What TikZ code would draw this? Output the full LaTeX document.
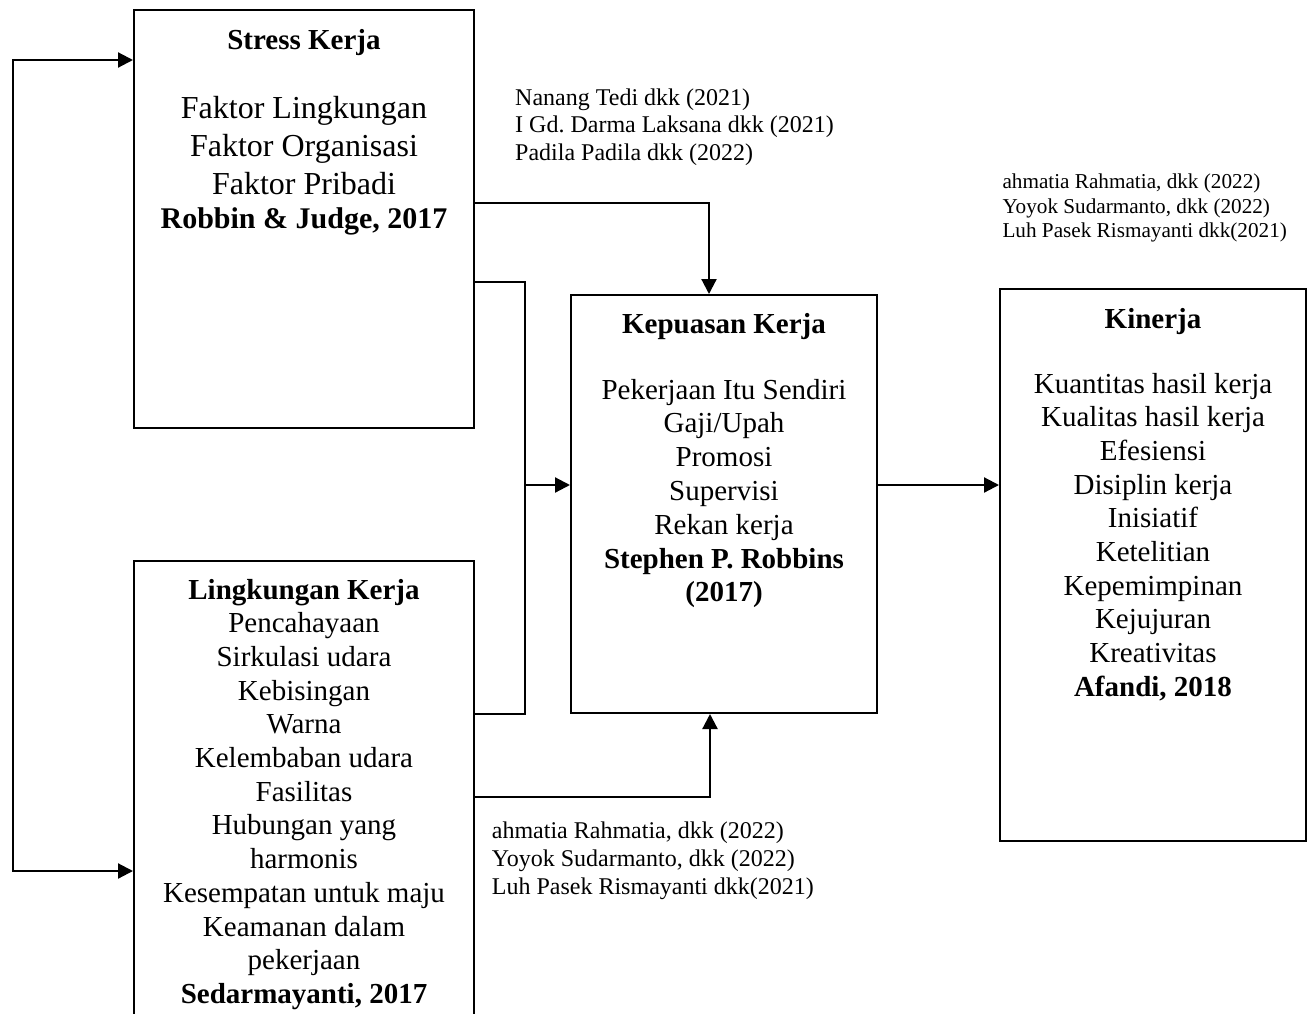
\documentclass[tikz,border=0pt]{standalone}
\usepackage{fontspec}
\setmainfont{Liberation Serif}
\usepackage{tikz}
\usetikzlibrary{arrows.meta}
\frenchspacing

\tikzset{
	box/.style={draw, line width=2pt, inner sep=0pt, anchor=north west},
	conn/.style={line width=2.2pt},
	arr/.style={line width=2.2pt, -{Triangle[length=15pt,width=15pt]}},
	arrboth/.style={line width=2.2pt, {Triangle[length=15pt,width=15pt]}-{Triangle[length=15pt,width=15pt]}},
	cite/.style={anchor=north west, inner sep=0pt, align=left}
}

\begin{document}
\begin{tikzpicture}[x=1pt, y=-1pt]
			%%%%% START %%%%%
			
			\useasboundingbox (0,0) rectangle (1311,1014);
			
			\node[box] (stress) at (133,9) {\parbox[t][418pt][t]{340pt}{\centering\fontsize{32}{38}\selectfont
				\rule{0pt}{39.5pt}{\fontsize{29}{38}\selectfont\textbf{Stress Kerja}}\\[31.5pt]
				Faktor Lingkungan\\
				Faktor Organisasi\\
				Faktor Pribadi\\[-4pt]
				{\fontsize{30}{38}\selectfont\textbf{Robbin \& Judge, 2017}}}};
			
			\node[box] (lingkungan) at (133,560) {\parbox[t][470pt][t]{340pt}{\centering\fontsize{29}{33.7}\selectfont
				\rule{0pt}{38pt}\textbf{Lingkungan Kerja}\\
				Pencahayaan\\
				Sirkulasi udara\\
				Kebisingan\\
				Warna\\
				Kelembaban udara\\
				Fasilitas\\
				Hubungan yang\\
				harmonis\\
				Kesempatan untuk maju\\
				Keamanan dalam\\
				pekerjaan\\
				\textbf{Sedarmayanti, 2017}}};
			
			\node[box] (kepuasan) at (570,294) {\parbox[t][418pt][t]{306pt}{\centering\fontsize{29}{33.8}\selectfont
				\rule{0pt}{38pt}\textbf{Kepuasan Kerja}\\[32.2pt]
				Pekerjaan Itu Sendiri\\
				Gaji/Upah\\
				Promosi\\
				Supervisi\\
				Rekan kerja\\
				\textbf{Stephen P. Robbins}\\
				\textbf{(2017)}}};
			
			\node[box] (kinerja) at (999,288) {\parbox[t][552pt][t]{306pt}{\centering\fontsize{29}{33.7}\selectfont
				\rule{0pt}{39pt}\textbf{Kinerja}\\[31.3pt]
				Kuantitas hasil kerja\\
				Kualitas hasil kerja\\
				Efesiensi\\
				Disiplin kerja\\
				Inisiatif\\
				Ketelitian\\
				Kepemimpinan\\
				Kejujuran\\
				Kreativitas\\
				\textbf{Afandi, 2018}}};
			
			\node[cite, font=\fontsize{24}{27.5}\selectfont] (citetop) at (515,85) {\rule{0pt}{20pt}Nanang Tedi dkk (2021)\\ I Gd. Darma Laksana dkk (2021)\\ Padila Padila dkk (2022)};
			\node[cite, font=\fontsize{21.2}{24.5}\selectfont] (citeright) at (1002.3,170.5) {\rule{0pt}{18pt}ahmatia Rahmatia, dkk (2022)\\ Yoyok Sudarmanto, dkk (2022)\\ Luh Pasek Rismayanti dkk(2021)};
			\node[cite, font=\fontsize{24}{28}\selectfont] (citebot) at (491.7,818) {\rule{0pt}{20pt}ahmatia Rahmatia, dkk (2022)\\ Yoyok Sudarmanto, dkk (2022)\\ Luh Pasek Rismayanti dkk(2021)};
			
			\coordinate (fbtop) at (12.7,60);
			\coordinate (fbbot) at (12.7,871);
			\coordinate (topbend) at (709,203);
			\coordinate (sjoin) at (525,282);
			\coordinate (mid) at (525,485);
			\coordinate (ljoin) at (525,714);
			\coordinate (botbend) at (710,797);
			
			\draw[arrboth] (stress.west |- fbtop) -- (fbtop) -- (fbbot) -- (lingkungan.west |- fbbot);
			\draw[arr] (stress.east |- topbend) -| (kepuasan.north -| topbend);
			\draw[conn] (stress.east |- sjoin) -- (sjoin) -- (ljoin) -- (lingkungan.east |- ljoin);
			\draw[arr] (mid) -- (kepuasan.west |- mid);
			\draw[arr] (lingkungan.east |- botbend) -| (kepuasan.south -| botbend);
			\draw[arr] (kepuasan.east |- mid) -- (kinerja.west |- mid);
			
			%%%%% END %%%%%
\end{tikzpicture}
\end{document}
